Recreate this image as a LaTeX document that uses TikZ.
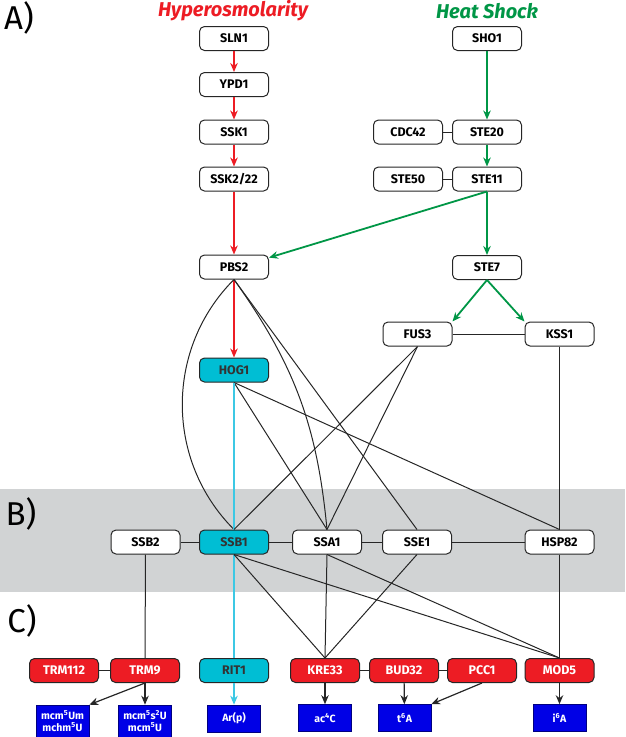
\documentclass[tikz,border=0pt]{standalone}
\usepackage{fontspec}
\setmainfont{Fira Sans}
\usepackage{xcolor}
\usepackage{tikz}
\usetikzlibrary{arrows.meta}

\definecolor{hyperred}{RGB}{237,28,36}
\definecolor{shockgreen}{RGB}{0,150,70}
\definecolor{hogcyan}{RGB}{0,190,212}
\definecolor{linkcyan}{RGB}{60,200,228}
\definecolor{modblue}{RGB}{0,0,230}
\definecolor{bandgray}{RGB}{209,211,212}

\begin{document}
\begin{tikzpicture}[x=1pt,y=-1pt]
	\tikzstyle{gene}=[draw=black!85,line width=1pt,rounded corners=5pt,fill=white,minimum width=69pt,minimum height=24pt,inner sep=0pt,font=\fontsize{12.5}{13}\selectfont\bfseries]
	\tikzstyle{hog}=[gene,fill=hogcyan,text=black!80]
	\tikzstyle{enzyme}=[gene,fill=hyperred,text=white]
	\tikzstyle{mod}=[draw=blue!50!black,line width=0.6pt,fill=modblue,text=white,minimum width=53pt,minimum height=27pt,inner sep=0pt,align=center,font=\fontsize{10.5}{11.5}\selectfont\bfseries]
	\tikzstyle{panel}=[font=\fontsize{33}{33}\selectfont]
	\tikzstyle{link}=[black!85,line width=1pt]
	\tikzstyle{cyanlink}=[linkcyan,line width=1.8pt]
	\tikzstyle{redarrow}=[hyperred,line width=2pt,-{Stealth[length=9pt,width=7.5pt]}]
	\tikzstyle{greenarrow}=[shockgreen,line width=1.8pt,-{Stealth[length=9pt,width=7.5pt]}]
	\tikzstyle{cyanarrow}=[cyanlink,-{Stealth[length=9pt,width=7.5pt]}]
	\tikzstyle{blackarrow}=[link,line width=1.2pt,-{Stealth[length=9pt,width=7.5pt]}]
	\useasboundingbox (0,0) rectangle (625,737);
	\fill[bandgray] (0,489) rectangle (625,592);
	% panel labels and titles
	\node[panel] (pa) at (19,18) {A)};
	\node[panel] (pb) at (21,514) {B)};
	\node[panel] (pc) at (22,621) {C)};
	\node[text=hyperred,font=\fontsize{20}{20}\selectfont\bfseries\itshape] (hyper) at (233,11) {Hyperosmolarity};
	\node[text=shockgreen,font=\fontsize{20}{20}\selectfont\bfseries\itshape] (heat) at (487,11) {Heat Shock};
	% A) signalling
	\node[gene] (sln1) at (234,38.5) {SLN1};
	\node[gene] (ypd1) at (234,84.5) {YPD1};
	\node[gene] (ssk1) at (234,132) {SSK1};
	\node[gene] (ssk2) at (234,179) {SSK2/22};
	\node[gene] (pbs2) at (234,267) {PBS2};
	\node[hog] (hog1) at (234,370) {HOG1};
	\node[gene] (sho1) at (487,38.5) {SHO1};
	\node[gene] (cdc42) at (408,132) {CDC42};
	\node[gene] (ste20) at (487,132) {STE20};
	\node[gene] (ste50) at (408,179) {STE50};
	\node[gene] (ste11) at (487,179) {STE11};
	\node[gene] (ste7) at (487,267.5) {STE7};
	\node[gene] (fus3) at (417.5,334) {FUS3};
	\node[gene] (kss1) at (559.5,334) {KSS1};
	% B) chaperones
	\node[gene] (ssb2) at (145.5,542) {SSB2};
	\node[hog] (ssb1) at (234,542) {SSB1};
	\node[gene] (ssa1) at (327,542) {SSA1};
	\node[gene] (sse1) at (417,542) {SSE1};
	\node[gene] (hsp82) at (559.5,542) {HSP82};
	% C) modifying enzymes
	\node[enzyme] (trm112) at (64,670.5) {TRM112};
	\node[enzyme] (trm9) at (145,670.5) {TRM9};
	\node[hog] (rit1) at (234,670.5) {RIT1};
	\node[enzyme] (kre33) at (325,670.5) {KRE33};
	\node[enzyme] (bud32) at (404,670.5) {BUD32};
	\node[enzyme] (pcc1) at (482,670.5) {PCC1};
	\node[enzyme] (mod5) at (559.5,670.5) {MOD5};
	\node[mod,minimum height=32pt] (mcmum) at (62.5,721) {mcm\textsuperscript{5}Um\\mchm\textsuperscript{5}U};
	\node[mod,minimum height=32pt] (mcmsu) at (145,721) {mcm\textsuperscript{5}s\textsuperscript{2}U\\mcm\textsuperscript{5}U};
	\node[mod] (arp) at (234,718.5) {Ar(p)};
	\node[mod] (ac4c) at (325,718) {ac\textsuperscript{4}C};
	\node[mod] (t6a) at (404.5,718) {t\textsuperscript{6}A};
	\node[mod] (i6a) at (559.5,718) {i\textsuperscript{6}A};
	% pathways
	\draw[redarrow] (sln1) -- (ypd1);
	\draw[redarrow] (ypd1) -- (ssk1);
	\draw[redarrow] (ssk1) -- (ssk2);
	\draw[redarrow] (ssk2) -- (pbs2);
	\draw[redarrow] (pbs2) -- (hog1);
	\draw[greenarrow] (sho1) -- (ste20);
	\draw[greenarrow] (ste20) -- (ste11);
	\draw[greenarrow] (ste11.south) -- (pbs2.15);
	\draw[greenarrow] (ste11) -- (ste7);
	\draw[greenarrow] (ste7.south) -- (fus3.north east);
	\draw[greenarrow] (ste7.south) -- (kss1.north west);
	\draw[link] (cdc42) -- (ste20);
	\draw[link] (ste50) -- (ste11);
	\draw[link] (fus3) -- (kss1);
	% interactions
	\draw[link] (pbs2.south) to [bend right=45] (ssb1.north);
	\draw[link] (pbs2.south) to [bend left=15] (ssa1.north);
	\draw[link] (pbs2.south) -- (sse1.north);
	\draw[link] (hog1.south) -- (ssa1.north);
	\draw[link] (hog1.south) -- (hsp82.north);
	\draw[cyanlink] (hog1) -- (ssb1);
	\draw[link] (fus3.south) -- (ssb1.north);
	\draw[link] (fus3.south) -- (ssa1.north);
	\draw[link] (kss1) -- (hsp82);
	\draw[link] (ssb2) -- (ssb1);
	\draw[link] (ssb1) -- (ssa1);
	\draw[link] (ssa1) -- (sse1);
	\draw[link] (sse1) -- (hsp82);
	\draw[link] (ssb2) -- (trm9);
	\draw[cyanlink] (ssb1) -- (rit1);
	\draw[link] (ssb1.south) -- (kre33.north);
	\draw[link] (ssb1.south) -- (mod5.north);
	\draw[link] (ssa1.south) -- (kre33.north);
	\draw[link] (ssa1.south) -- (mod5.north);
	\draw[link] (sse1.south) -- (kre33.north);
	\draw[link] (hsp82) -- (mod5);
	\draw[link] (trm112) -- (trm9);
	\draw[link] (kre33) -- (bud32);
	\draw[link] (bud32) -- (pcc1);
	% modifications
	\draw[blackarrow] (trm9.south) -- (mcmum.north east);
	\draw[blackarrow] (trm9) -- (mcmsu);
	\draw[cyanarrow] (rit1) -- (arp);
	\draw[blackarrow] (kre33) -- (ac4c);
	\draw[blackarrow] (bud32) -- (t6a);
	\draw[blackarrow] (pcc1.south) -- (t6a.north east);
	\draw[blackarrow] (mod5) -- (i6a);
\end{tikzpicture}
\end{document}
